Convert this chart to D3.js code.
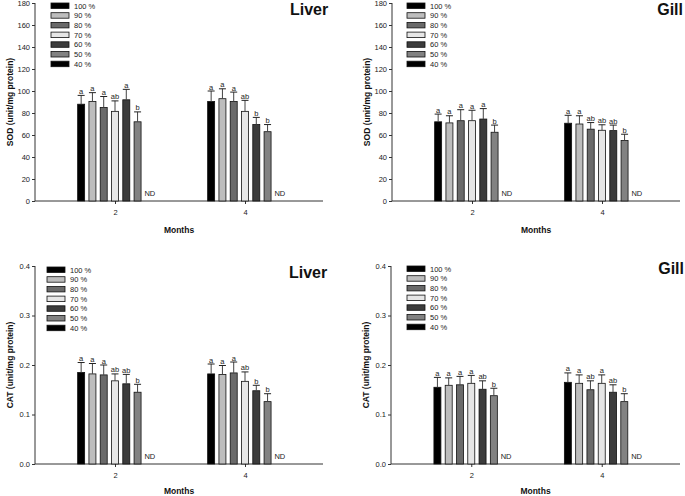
<!DOCTYPE html>
<html><head><meta charset="utf-8">
<script src="https://cdn.jsdelivr.net/npm/d3@7"></script>
<style>body{margin:0;background:#fff}svg{display:block;font-family:"Liberation Sans",Arial,sans-serif}</style>
</head><body><svg id="c" width="685" height="496"></svg>
<script>
const months = ["2", "4"];
const groups = ["100 %", "90 %", "80 %", "70 %", "60 %", "50 %", "40 %"];
const sodTicks = [0, 20, 40, 60, 80, 100, 120, 140, 160, 180];
const catTicks = [0, 0.1, 0.2, 0.3, 0.4];

// SOD liver
const sodLiverMean = [[88, 90.5, 85, 81.5, 92, 72, null], [90.5, 93, 90.5, 81.5, 69.5, 63, null]];
const sodLiverErr  = [[8, 8, 10, 9.5, 9.5, 9, null], [9.5, 9, 8.5, 10, 6.5, 6.5, null]];
const sodLiverSig  = [["a","a","a","ab","a","b"], ["a","a","a","ab","b","b"]];
// SOD gill
const sodGillMean = [[72, 71, 73, 73, 74.5, 62.5, null], [70.7, 70, 65.3, 64.3, 64, 55, null]];
const sodGillErr  = [[7, 6.5, 10, 9.5, 9.5, 6.5, null], [7.2, 7.5, 6, 5, 5, 5.7, null]];
const sodGillSig  = [["a","a","a","a","a","b"], ["a","a","ab","ab","ab","b"]];
// CAT liver
const catLiverMean = [[0.185, 0.182, 0.180, 0.168, 0.162, 0.145, null], [0.182, 0.181, 0.184, 0.167, 0.148, 0.126, null]];
const catLiverErr  = [[0.020, 0.021, 0.020, 0.014, 0.019, 0.016, null], [0.020, 0.018, 0.022, 0.019, 0.011, 0.016, null]];
const catLiverSig  = [["a","a","a","ab","ab","b"], ["a","a","a","ab","b","b"]];
// CAT gill
const catGillMean = [[0.155, 0.159, 0.160, 0.163, 0.151, 0.138, null], [0.165, 0.163, 0.150, 0.163, 0.145, 0.126, null]];
const catGillErr  = [[0.020, 0.015, 0.017, 0.016, 0.017, 0.015, null], [0.019, 0.017, 0.018, 0.017, 0.015, 0.016, null]];
const catGillSig  = [["a","a","a","a","ab","b"], ["a","a","ab","a","ab","b"]];

const fills = ["#000000", "#bdbdbd", "#6a6a6a", "#e6e6e6", "#3c3c3c", "#828282", "#000000"];

const svg = d3.select("#c");

function panel(o) {
  const g = svg.append("g");
  const x = d3.scalePoint().domain(months).range([o.x0 + 2, o.x1]).padding(0.6);
  const xs = d3.scaleBand().domain(d3.range(groups.length)).range([-39.5, 39.5]).paddingInner(0.38).paddingOuter(0.19);
  const y = d3.scaleLinear().domain([0, o.ticks[o.ticks.length - 1]]).range([o.yb, o.yt]);

  const ya = g.append("g").attr("transform", `translate(${o.x0},0)`)
    .call(d3.axisLeft(y).tickValues(o.ticks).tickSize(3).tickPadding(2).tickFormat(o.fmt));
  ya.select(".domain").attr("stroke", "#333").attr("d", `M0,${o.yt}V${o.yb}`);
  ya.selectAll(".tick line").attr("stroke", "#333");
  ya.selectAll("text").attr("font-size", 7.5).attr("fill", "#222");

  const xa = g.append("g").attr("transform", `translate(0,${o.yb})`)
    .call(d3.axisBottom(x).tickSize(3).tickPadding(6));
  xa.select(".domain").attr("stroke", "#333").attr("d", `M${o.x0},0H${o.x1}`);
  xa.selectAll(".tick line").attr("stroke", "#333");
  xa.selectAll("text").attr("font-size", 7.5).attr("fill", "#222");

  months.forEach((m, mi) => {
    const cx = x(m);
    groups.forEach((s, si) => {
      const v = o.mean[mi][si];
      const bx = cx + xs(si);
      const bw = xs.bandwidth();
      if (v == null) {
        g.append("text").attr("x", bx + bw / 2 + 1).attr("y", o.yb - 5)
          .attr("text-anchor", "middle").attr("font-size", 7.5).attr("fill", "#222").text("ND");
        return;
      }
      const e = o.err[mi][si];
      g.append("rect").attr("x", bx).attr("y", y(v)).attr("width", bw).attr("height", o.yb - y(v))
        .attr("fill", fills[si]).attr("stroke", "#111").attr("stroke-width", 0.8);
      const ec = bx + bw / 2;
      g.append("line").attr("x1", ec).attr("x2", ec).attr("y1", y(v)).attr("y2", y(v + e))
        .attr("stroke", "#444").attr("stroke-width", 1);
      g.append("line").attr("x1", ec - 3.5).attr("x2", ec + 3.5).attr("y1", y(v + e)).attr("y2", y(v + e))
        .attr("stroke", "#222").attr("stroke-width", 1);
      g.append("text").attr("x", ec).attr("y", y(v + e) - 1.5).attr("text-anchor", "middle")
        .attr("font-size", 7.5).attr("fill", "#222").text(o.sig[mi][si]);
    });
  });

  groups.forEach((s, si) => {
    const ly = o.ly + si * 9.7;
    g.append("rect").attr("x", o.lx).attr("y", ly).attr("width", 18).attr("height", 5.5)
      .attr("fill", fills[si]).attr("stroke", "#111").attr("stroke-width", 0.8);
    g.append("text").attr("x", o.lx + 23).attr("y", ly + 5.5).attr("font-size", 7.5).attr("fill", "#222").text(s);
  });

  g.append("text").attr("x", o.tx).attr("y", o.ty).attr("text-anchor", o.ta || "start")
    .attr("font-size", 16).attr("font-weight", "bold").attr("fill", "#111").text(o.title);
  g.append("text").attr("x", (o.x0 + o.x1) / 2).attr("y", o.mx).attr("text-anchor", "middle")
    .attr("font-size", 8.5).attr("font-weight", "bold").attr("fill", "#111").text("Months");
  g.append("text").attr("transform", `translate(${o.x0 - 22},${(o.yt + o.yb) / 2}) rotate(-90)`)
    .attr("text-anchor", "middle").attr("font-size", 8.5).attr("font-weight", "bold").attr("fill", "#111").text(o.ylab);
}

const f0 = d3.format("d"), f1 = d3.format(".1f");
panel({x0: 35, x1: 323, yt: 3, yb: 201, ticks: sodTicks, fmt: f0, mean: sodLiverMean, err: sodLiverErr, sig: sodLiverSig,
  lx: 51, ly: 3, tx: 290, ty: 15, title: "Liver", mx: 233, ylab: "SOD (unit/mg protein)"});
panel({x0: 392, x1: 680, yt: 3, yb: 201, ticks: sodTicks, fmt: f0, mean: sodGillMean, err: sodGillErr, sig: sodGillSig,
  lx: 407, ly: 3, tx: 683, ty: 15, ta: "end", title: "Gill", mx: 233, ylab: "SOD (unit/mg protein)"});
panel({x0: 35, x1: 323, yt: 266, yb: 464, ticks: catTicks, fmt: f1, mean: catLiverMean, err: catLiverErr, sig: catLiverSig,
  lx: 47, ly: 267, tx: 289, ty: 278, title: "Liver", mx: 494, ylab: "CAT (unit/mg protein)"});
panel({x0: 391, x1: 680, yt: 266, yb: 464, ticks: catTicks, fmt: f1, mean: catGillMean, err: catGillErr, sig: catGillSig,
  lx: 407, ly: 266, tx: 684, ty: 274, ta: "end", title: "Gill", mx: 494, ylab: "CAT (unit/mg protein)"});
</script></body></html>
